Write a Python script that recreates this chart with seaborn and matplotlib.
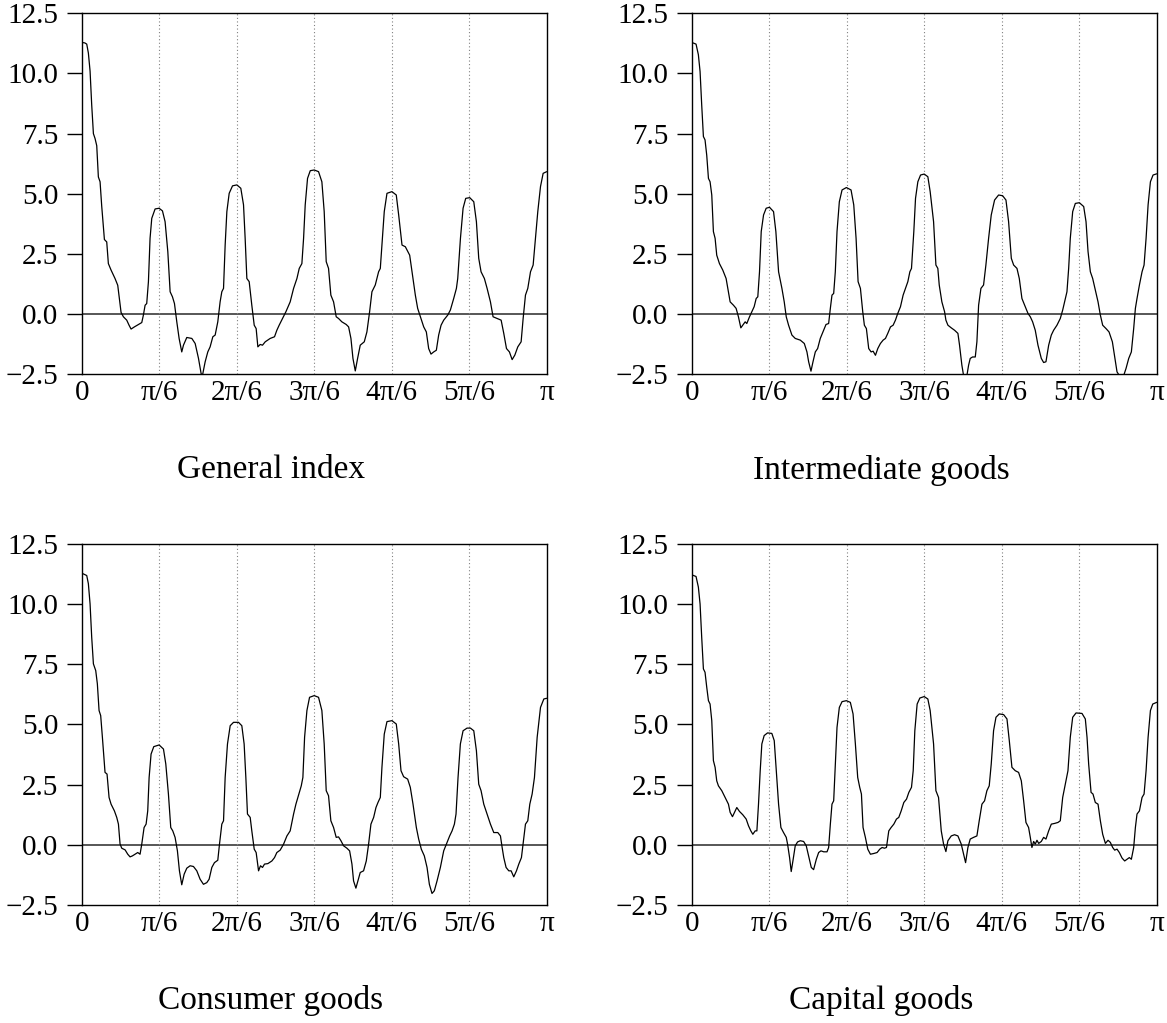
import numpy as np
import pandas as pd
import matplotlib
matplotlib.use("Agg")
import matplotlib.pyplot as plt
import seaborn as sns

# ---------------- data (frequency in multiples of pi/6, spectral value) ----------------
titles = ["General index", "Intermediate goods", "Consumer goods", "Capital goods"]
xtick_labels = ["0", "π/6", "2π/6", "3π/6", "4π/6", "5π/6", "π"]
ytick_values = [-2.5, 0.0, 2.5, 5.0, 7.5, 10.0, 12.5]

general_freq = [0.000, 0.040, 0.065, 0.086, 0.108, 0.129, 0.151, 0.172, 0.194, 0.215, 0.237, 0.258, 0.293, 0.323, 0.344, 0.379, 0.430, 0.465, 0.486, 0.508, 0.538, 0.581, 0.611, 0.637, 0.680, 0.732, 0.775, 0.796, 0.818, 0.839, 0.861, 0.882, 0.904, 0.947, 0.999, 1.042, 1.076, 1.111, 1.141, 1.171, 1.197, 1.227, 1.257, 1.291, 1.313, 1.356, 1.421, 1.464, 1.507, 1.541, 1.558, 1.593, 1.627, 1.657, 1.692, 1.722, 1.756, 1.786, 1.808, 1.830, 1.851, 1.873, 1.903, 1.946, 2.002, 2.053, 2.088, 2.109, 2.131, 2.161, 2.195, 2.226, 2.251, 2.273, 2.303, 2.333, 2.368, 2.432, 2.488, 2.518, 2.548, 2.591, 2.635, 2.690, 2.734, 2.777, 2.807, 2.841, 2.863, 2.884, 2.914, 2.949, 3.000,
                3.056, 3.099, 3.129, 3.155, 3.185, 3.215, 3.250, 3.284, 3.314, 3.357, 3.413, 3.444, 3.474, 3.500, 3.530, 3.560, 3.594, 3.646, 3.680, 3.715, 3.745, 3.788, 3.831, 3.853, 3.874, 3.904, 3.939, 4.003, 4.059, 4.090, 4.133, 4.176, 4.232, 4.262, 4.305, 4.335, 4.378, 4.413, 4.447, 4.477, 4.507, 4.542, 4.576, 4.606, 4.637, 4.671, 4.723, 4.757, 4.800, 4.835, 4.852, 4.887, 4.921, 4.955, 5.007, 5.059, 5.093, 5.123, 5.153, 5.196, 5.231, 5.274, 5.308, 5.360, 5.412, 5.446, 5.481, 5.519, 5.554, 5.589, 5.627, 5.670, 5.696, 5.726, 5.756, 5.791, 5.825, 5.855, 5.885, 5.920, 5.954, 6.000]
general_value = [11.29, 11.27, 11.22, 10.85, 10.10, 8.70, 7.50, 7.30, 7.00, 5.70, 5.50, 4.50, 3.10, 3.00, 2.10, 1.83, 1.48, 1.20, 0.65, 0.07, -0.11, -0.25, -0.46, -0.62, -0.53, -0.43, -0.35, -0.04, 0.37, 0.44, 1.35, 3.15, 3.98, 4.37, 4.40, 4.29, 3.84, 2.60, 0.93, 0.72, 0.44, -0.32, -1.01, -1.57, -1.29, -0.97, -1.01, -1.22, -1.84, -2.47, -2.55, -1.98, -1.57, -1.36, -0.94, -0.87, -0.32, 0.51, 0.93, 1.07, 2.87, 4.26, 5.02, 5.33, 5.37, 5.23, 4.54, 3.15, 1.48, 1.35, 0.37, -0.46, -0.60, -1.36, -1.26, -1.29, -1.15, -1.01, -0.94, -0.67, -0.46, -0.18, 0.10, 0.51, 1.07, 1.48, 1.90, 2.10, 3.15, 4.54, 5.64, 5.96, 5.99,
                 5.92, 5.50, 4.26, 2.18, 1.90, 0.79, 0.51, -0.11, -0.18, -0.32, -0.43, -0.53, -1.01, -1.84, -2.36, -1.84, -1.29, -1.15, -0.74, 0.10, 0.93, 1.21, 1.76, 1.90, 2.87, 4.26, 5.02, 5.09, 4.95, 4.12, 2.87, 2.80, 2.45, 1.76, 0.79, 0.24, -0.18, -0.53, -0.74, -1.43, -1.66, -1.57, -1.50, -0.87, -0.46, -0.25, -0.04, 0.17, 0.65, 1.07, 1.48, 3.15, 4.40, 4.81, 4.84, 4.67, 3.84, 2.32, 1.76, 1.48, 1.07, 0.51, -0.11, -0.18, -0.25, -0.80, -1.43, -1.57, -1.89, -1.70, -1.36, -1.15, -0.18, 0.79, 1.07, 1.76, 2.04, 3.15, 4.26, 5.30, 5.85, 5.92]

intermediate_freq = [0.000, 0.056, 0.086, 0.108, 0.129, 0.151, 0.172, 0.194, 0.216, 0.237, 0.259, 0.280, 0.302, 0.323, 0.358, 0.401, 0.444, 0.474, 0.496, 0.539, 0.573, 0.603, 0.634, 0.659, 0.690, 0.711, 0.746, 0.776, 0.806, 0.832, 0.853, 0.875, 0.897, 0.927, 0.961, 1.004, 1.056, 1.086, 1.121, 1.164, 1.194, 1.220, 1.250, 1.293, 1.336, 1.401, 1.453, 1.487, 1.509, 1.539, 1.565, 1.595, 1.625, 1.659, 1.703, 1.733, 1.767, 1.789, 1.810, 1.832, 1.853, 1.875, 1.905, 1.940, 1.996, 2.056, 2.091, 2.121, 2.147, 2.177, 2.207, 2.228, 2.254, 2.284, 2.315, 2.341, 2.371, 2.401, 2.435, 2.470, 2.500, 2.530, 2.565, 2.599, 2.629, 2.659, 2.694, 2.728, 2.759, 2.789, 2.815, 2.836, 2.866, 2.888, 2.918, 2.953, 3.000,
                     3.047, 3.077, 3.121, 3.151, 3.176, 3.194, 3.228, 3.263, 3.280, 3.306, 3.349, 3.392, 3.435, 3.456, 3.486, 3.508, 3.530, 3.551, 3.573, 3.594, 3.624, 3.659, 3.680, 3.702, 3.732, 3.766, 3.796, 3.831, 3.865, 3.908, 3.960, 4.012, 4.055, 4.089, 4.124, 4.154, 4.197, 4.227, 4.261, 4.296, 4.339, 4.369, 4.399, 4.433, 4.468, 4.511, 4.541, 4.571, 4.606, 4.640, 4.670, 4.713, 4.756, 4.787, 4.821, 4.842, 4.864, 4.885, 4.916, 4.950, 5.002, 5.058, 5.088, 5.114, 5.144, 5.174, 5.208, 5.243, 5.273, 5.303, 5.346, 5.385, 5.428, 5.467, 5.488, 5.518, 5.544, 5.574, 5.604, 5.639, 5.673, 5.703, 5.725, 5.746, 5.777, 5.811, 5.837, 5.863, 5.889, 5.919, 5.953, 6.000]
intermediate_value = [11.29, 11.22, 10.78, 10.08, 8.70, 7.38, 7.24, 6.60, 5.64, 5.50, 4.95, 3.43, 3.15, 2.45, 2.10, 1.83, 1.48, 0.93, 0.51, 0.37, 0.24, -0.11, -0.57, -0.46, -0.32, -0.39, -0.11, 0.10, 0.31, 0.65, 0.72, 1.76, 3.43, 4.12, 4.40, 4.44, 4.26, 3.43, 1.76, 1.07, 0.51, -0.11, -0.46, -0.87, -1.01, -1.08, -1.22, -1.57, -1.98, -2.37, -1.98, -1.57, -1.43, -1.01, -0.67, -0.43, -0.39, 0.24, 0.79, 0.86, 1.76, 3.43, 4.67, 5.16, 5.26, 5.16, 4.54, 3.15, 1.35, 1.07, 0.10, -0.46, -0.60, -1.43, -1.57, -1.54, -1.71, -1.43, -1.22, -1.08, -1.01, -0.80, -0.53, -0.46, -0.25, 0.03, 0.31, 0.79, 1.07, 1.35, 1.76, 1.90, 3.43, 4.81, 5.50, 5.78, 5.82,
                      5.71, 5.09, 3.84, 2.04, 1.90, 1.21, 0.51, 0.10, -0.25, -0.46, -0.57, -0.67, -0.80, -1.29, -2.12, -2.55, -2.65, -2.55, -2.12, -1.84, -1.78, -1.78, -1.15, 0.37, 1.07, 1.21, 2.04, 3.15, 4.12, 4.74, 4.95, 4.92, 4.74, 3.84, 2.32, 2.04, 1.90, 1.48, 0.65, 0.37, 0.03, -0.11, -0.32, -0.67, -1.29, -1.84, -2.01, -1.98, -1.29, -0.87, -0.67, -0.46, -0.18, 0.17, 0.65, 0.93, 1.90, 3.15, 4.26, 4.60, 4.63, 4.47, 3.84, 2.60, 1.76, 1.48, 1.00, 0.51, -0.04, -0.46, -0.60, -0.74, -1.15, -1.98, -2.40, -2.55, -2.65, -2.55, -2.26, -1.84, -1.57, -0.60, 0.24, 0.65, 1.21, 1.76, 2.04, 3.15, 4.54, 5.50, 5.78, 5.83]

consumer_freq = [0.000, 0.065, 0.086, 0.108, 0.129, 0.151, 0.181, 0.202, 0.224, 0.245, 0.267, 0.301, 0.327, 0.353, 0.379, 0.422, 0.452, 0.474, 0.495, 0.517, 0.560, 0.594, 0.624, 0.654, 0.689, 0.723, 0.753, 0.775, 0.805, 0.831, 0.852, 0.870, 0.895, 0.930, 0.999, 1.055, 1.085, 1.119, 1.149, 1.175, 1.205, 1.235, 1.261, 1.291, 1.322, 1.356, 1.399, 1.442, 1.485, 1.528, 1.571, 1.614, 1.644, 1.679, 1.713, 1.756, 1.778, 1.808, 1.830, 1.851, 1.881, 1.916, 1.959, 2.023, 2.066, 2.096, 2.118, 2.139, 2.174, 2.195, 2.226, 2.251, 2.282, 2.307, 2.333, 2.359, 2.402, 2.454, 2.488, 2.518, 2.561, 2.605, 2.648, 2.690, 2.734, 2.764, 2.789, 2.833, 2.854, 2.876, 2.906, 2.940, 3.000,
                 3.056, 3.099, 3.129, 3.155, 3.185, 3.215, 3.250, 3.284, 3.314, 3.345, 3.379, 3.422, 3.457, 3.487, 3.508, 3.538, 3.564, 3.594, 3.637, 3.672, 3.702, 3.732, 3.767, 3.797, 3.823, 3.853, 3.874, 3.904, 3.939, 4.003, 4.059, 4.090, 4.120, 4.154, 4.206, 4.240, 4.275, 4.318, 4.348, 4.382, 4.421, 4.456, 4.486, 4.520, 4.550, 4.585, 4.628, 4.671, 4.714, 4.748, 4.779, 4.809, 4.830, 4.856, 4.886, 4.921, 4.972, 5.016, 5.059, 5.093, 5.123, 5.153, 5.188, 5.231, 5.274, 5.317, 5.369, 5.403, 5.425, 5.446, 5.476, 5.511, 5.541, 5.575, 5.610, 5.640, 5.674, 5.705, 5.726, 5.756, 5.782, 5.812, 5.842, 5.877, 5.920, 5.963, 6.000]
consumer_value = [11.29, 11.19, 10.85, 10.01, 8.63, 7.52, 7.24, 6.69, 5.58, 5.37, 4.47, 3.01, 2.94, 1.97, 1.69, 1.41, 1.14, 0.86, 0.03, -0.14, -0.21, -0.39, -0.50, -0.46, -0.39, -0.32, -0.39, 0.03, 0.72, 0.86, 1.41, 2.80, 3.77, 4.08, 4.15, 3.98, 3.36, 2.11, 0.72, 0.58, 0.31, -0.25, -1.08, -1.66, -1.22, -0.97, -0.87, -0.90, -1.08, -1.43, -1.64, -1.57, -1.43, -0.94, -0.74, -0.64, 0.03, 0.86, 1.00, 2.80, 4.19, 4.95, 5.09, 5.09, 4.95, 4.19, 2.80, 1.28, 1.14, 0.58, -0.18, -0.32, -1.08, -0.87, -0.94, -0.80, -0.78, -0.67, -0.53, -0.32, -0.22, 0.03, 0.37, 0.58, 1.28, 1.69, 1.97, 2.45, 2.80, 4.47, 5.58, 6.13, 6.20,
                  6.13, 5.58, 4.19, 2.25, 2.04, 1.00, 0.72, 0.31, 0.33, 0.17, -0.04, -0.14, -0.25, -0.80, -1.50, -1.80, -1.50, -1.15, -1.08, -0.67, 0.03, 0.86, 1.14, 1.55, 1.76, 1.97, 3.22, 4.60, 5.12, 5.16, 5.02, 4.19, 3.08, 2.83, 2.73, 2.39, 1.69, 0.72, 0.24, -0.18, -0.46, -0.94, -1.64, -2.02, -1.91, -1.50, -0.94, -0.25, 0.10, 0.37, 0.58, 0.86, 1.28, 2.80, 4.19, 4.74, 4.85, 4.85, 4.74, 3.91, 2.52, 2.25, 1.69, 1.28, 0.86, 0.51, 0.51, 0.37, -0.11, -0.53, -0.94, -1.08, -1.08, -1.33, -1.08, -0.80, -0.53, 0.31, 0.86, 1.00, 1.69, 2.11, 2.80, 4.47, 5.71, 6.06, 6.09]

capital_freq = [0.000, 0.056, 0.086, 0.108, 0.129, 0.151, 0.172, 0.194, 0.216, 0.237, 0.259, 0.280, 0.302, 0.323, 0.345, 0.388, 0.431, 0.474, 0.496, 0.526, 0.552, 0.582, 0.616, 0.659, 0.703, 0.733, 0.763, 0.789, 0.819, 0.841, 0.862, 0.884, 0.905, 0.935, 0.978, 1.034, 1.065, 1.091, 1.121, 1.151, 1.185, 1.220, 1.237, 1.263, 1.284, 1.306, 1.336, 1.366, 1.401, 1.444, 1.478, 1.509, 1.543, 1.573, 1.608, 1.638, 1.668, 1.703, 1.746, 1.767, 1.789, 1.810, 1.832, 1.853, 1.875, 1.905, 1.940, 1.996, 2.047, 2.082, 2.112, 2.142, 2.168, 2.190, 2.211, 2.241, 2.272, 2.306, 2.349, 2.392, 2.427, 2.457, 2.487, 2.513, 2.543, 2.573, 2.608, 2.642, 2.672, 2.703, 2.737, 2.772, 2.802, 2.836, 2.858, 2.879, 2.909, 2.944, 3.000,
                3.047, 3.077, 3.121, 3.151, 3.185, 3.220, 3.250, 3.280, 3.306, 3.349, 3.392, 3.435, 3.478, 3.508, 3.534, 3.564, 3.594, 3.637, 3.680, 3.710, 3.745, 3.779, 3.809, 3.839, 3.865, 3.895, 3.926, 3.969, 4.025, 4.068, 4.098, 4.132, 4.175, 4.218, 4.253, 4.283, 4.313, 4.347, 4.369, 4.390, 4.412, 4.433, 4.455, 4.477, 4.511, 4.541, 4.571, 4.606, 4.640, 4.683, 4.726, 4.756, 4.787, 4.821, 4.855, 4.885, 4.916, 4.959, 5.036, 5.079, 5.101, 5.122, 5.153, 5.178, 5.208, 5.243, 5.273, 5.303, 5.338, 5.372, 5.402, 5.432, 5.458, 5.488, 5.518, 5.553, 5.587, 5.617, 5.647, 5.673, 5.703, 5.725, 5.746, 5.777, 5.811, 5.837, 5.863, 5.889, 5.919, 5.949, 6.000]
capital_value = [11.22, 11.15, 10.71, 10.01, 8.63, 7.31, 7.17, 6.55, 5.99, 5.85, 5.16, 3.50, 3.22, 2.66, 2.45, 2.25, 1.97, 1.69, 1.35, 1.17, 1.35, 1.55, 1.39, 1.25, 1.07, 0.79, 0.58, 0.44, 0.58, 0.58, 1.69, 3.08, 4.19, 4.54, 4.65, 4.63, 4.33, 3.08, 1.69, 0.72, 0.51, 0.31, 0.03, -0.53, -1.11, -0.67, -0.04, 0.12, 0.17, 0.14, -0.04, -0.46, -0.94, -1.03, -0.60, -0.32, -0.25, -0.29, -0.29, -0.11, 0.86, 1.69, 1.83, 3.36, 4.88, 5.71, 5.95, 5.99, 5.92, 5.44, 4.19, 2.80, 2.39, 2.11, 0.72, 0.31, -0.18, -0.39, -0.36, -0.32, -0.18, -0.11, -0.14, -0.11, 0.58, 0.72, 0.86, 1.07, 1.14, 1.41, 1.76, 1.90, 2.18, 2.39, 3.08, 4.74, 5.85, 6.10, 6.16,
                 6.06, 5.58, 4.19, 2.25, 1.97, 0.58, 0.03, -0.28, 0.17, 0.37, 0.42, 0.37, 0.03, -0.39, -0.74, -0.11, 0.24, 0.31, 0.37, 1.00, 1.69, 1.83, 2.25, 2.45, 3.36, 4.74, 5.30, 5.44, 5.41, 5.23, 4.33, 3.22, 3.08, 3.01, 2.66, 1.83, 0.93, 0.72, 0.31, -0.11, 0.14, 0.03, 0.19, 0.06, 0.14, 0.31, 0.24, 0.58, 0.86, 0.89, 0.93, 1.00, 1.97, 2.52, 3.08, 4.47, 5.30, 5.48, 5.46, 5.23, 4.47, 3.36, 2.18, 2.11, 1.76, 1.69, 1.00, 0.44, 0.06, 0.19, 0.10, -0.11, -0.22, -0.18, -0.32, -0.55, -0.67, -0.60, -0.53, -0.60, -0.11, 0.72, 1.28, 1.41, 1.97, 2.11, 3.08, 4.47, 5.58, 5.85, 5.92]

series = [(general_freq, general_value), (intermediate_freq, intermediate_value),
          (consumer_freq, consumer_value), (capital_freq, capital_value)]

# ---------------- styling ----------------
sns.set_style("white")
plt.rcParams['font.family'] = ['Liberation Serif', 'DejaVu Serif']
plt.rcParams['axes.unicode_minus'] = True
plt.rcParams['text.color'] = 'black'
plt.rcParams['xtick.color'] = 'black'
plt.rcParams['ytick.color'] = 'black'
plt.rcParams['axes.labelcolor'] = 'black'

W, H = 1167, 1023
fig = plt.figure(figsize=(W / 100, H / 100), dpi=100)

axes_px = [(81.7, 13.3), (691.7, 13.3), (81.7, 544.0), (691.7, 544.0)]
aw, ah = 465.0, 361.0
title_px = [(271, 470), (881, 470), (271, 1000), (881, 1000)]

for i, (freq, vals) in enumerate(series):
    x0, y0 = axes_px[i]
    ax = fig.add_axes([x0 / W, 1 - (y0 + ah) / H, aw / W, ah / H])
    df = pd.DataFrame({"freq": np.asarray(freq) * np.pi / 6, "value": vals})
    ax.axhline(0, color="#3a3a3a", lw=1.2, zorder=1)
    for k in range(1, 6):
        ax.axvline(k * np.pi / 6, color="#808080", ls=(0, (1, 2.2)), lw=0.8, zorder=1)
    sns.lineplot(data=df, x="freq", y="value", ax=ax, color="black",
                 linewidth=0.9, sort=False, estimator=None, zorder=3)
    ax.set_xlim(0, np.pi)
    ax.set_ylim(-2.5, 12.5)
    ax.set_xticks([k * np.pi / 6 for k in range(7)])
    ax.set_xticklabels(xtick_labels)
    ax.set_yticks(ytick_values)
    ax.set_yticklabels([f"{v:.1f}".replace("-", "\u2212") for v in ytick_values])
    ax.tick_params(axis='x', length=0, pad=4, labelsize=21, bottom=True, labelcolor='black')
    ax.tick_params(axis='y', length=11, width=1, pad=6, labelsize=21,
                   direction='out', left=True, color='black', labelcolor='black')
    ax.set_xlabel("")
    ax.set_ylabel("")
    for s in ax.spines.values():
        s.set_color("black")
        s.set_linewidth(1.0)
    tx, ty = title_px[i]
    fig.text(tx / W, 1 - ty / H, titles[i], ha='center', va='center',
             fontsize=24, color='black')

fig.savefig("out.png", dpi=100)
